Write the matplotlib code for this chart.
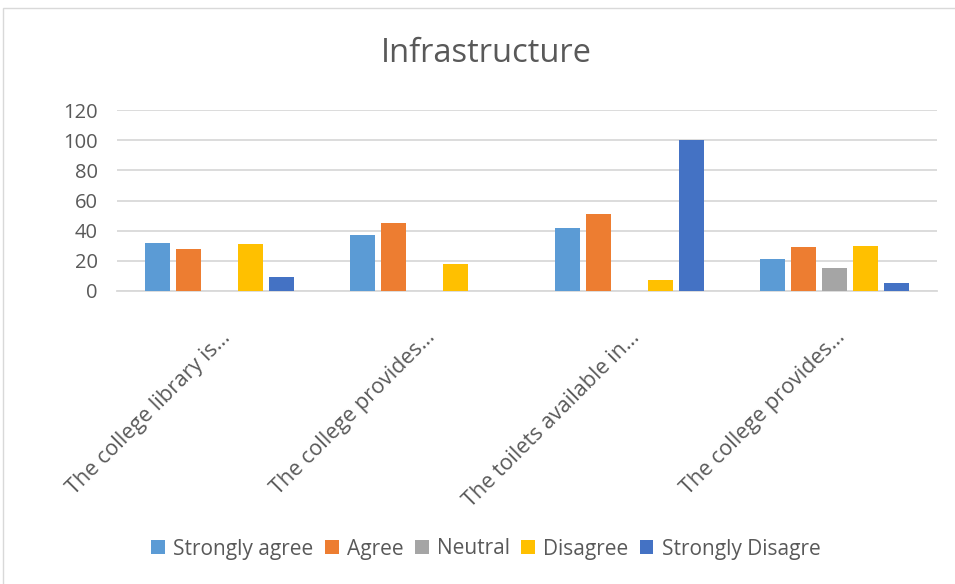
import numpy as np
import matplotlib
matplotlib.use("Agg")
import matplotlib.pyplot as plt
from matplotlib.patches import Rectangle

plt.rcParams['font.family'] = ['Open Sans', 'DejaVu Sans']

categories = ["The college library is…", "The college provides…",
              "The toilets available in…", "The college provides…"]
series = ["Strongly agree", "Agree", "Neutral", "Disagree", "Strongly Disagre"]
strongly_agree = [32, 37, 42, 21]
agree = [28, 45, 51, 29]
neutral = [0, 0, 0, 15]
disagree = [31, 18, 7, 30]
strongly_disagree = [9, 0, 100, 5]
colors = ["#5B9BD5", "#ED7D31", "#A5A5A5", "#FFC000", "#4472C4"]

values = [strongly_agree, agree, neutral, disagree, strongly_disagree]
text_col = "#595959"

fig = plt.figure(figsize=(9.55, 5.84), dpi=100)
# light chart border
fig.patches.append(Rectangle((3 / 955, -0.01), 1.0, (584 - 8) / 584 + 0.01,
                             transform=fig.transFigure, fill=False,
                             edgecolor="#D9D9D9", linewidth=1))

ax = fig.add_axes([117 / 955, (584 - 291) / 584, 820 / 955, 181 / 584])
x = np.arange(len(categories))
slot = 0.151
width = 0.122
for i, (name, vals) in enumerate(zip(series, values)):
    ax.bar(x + (i - 2) * slot, vals, width, color=colors[i], label=name, zorder=3)

ax.set_xlim(-0.5, 3.5)
ax.set_ylim(0, 120)
ax.set_yticks(range(0, 121, 20))
ax.yaxis.grid(True, color="#D9D9D9", linewidth=1.3, zorder=0)
for s in ["top", "right", "left"]:
    ax.spines[s].set_visible(False)
ax.spines["bottom"].set_color("#D9D9D9")
ax.spines["bottom"].set_linewidth(1.3)
ax.tick_params(axis="both", length=0, colors=text_col, labelsize=14.5)
ax.tick_params(axis="y", pad=14)
ax.tick_params(axis="x", pad=26)
ax.set_xticks(x)
ax.set_xticklabels(categories, rotation=45, ha="right", rotation_mode="anchor",
                   fontsize=15.5)

fig.text(486 / 955, 1 - 53 / 584, "Infrastructure", ha="center", va="center",
         fontsize=23.5, color=text_col)

handles, labels = ax.get_legend_handles_labels()
fig.legend(handles, labels, loc="center", bbox_to_anchor=(486 / 955, 1 - 549 / 584),
           ncol=5, frameon=False, fontsize=15, labelcolor=text_col,
           handlelength=0.65, handleheight=0.65, handletextpad=0.4, columnspacing=0.55)

fig.savefig("out.png", dpi=100)
